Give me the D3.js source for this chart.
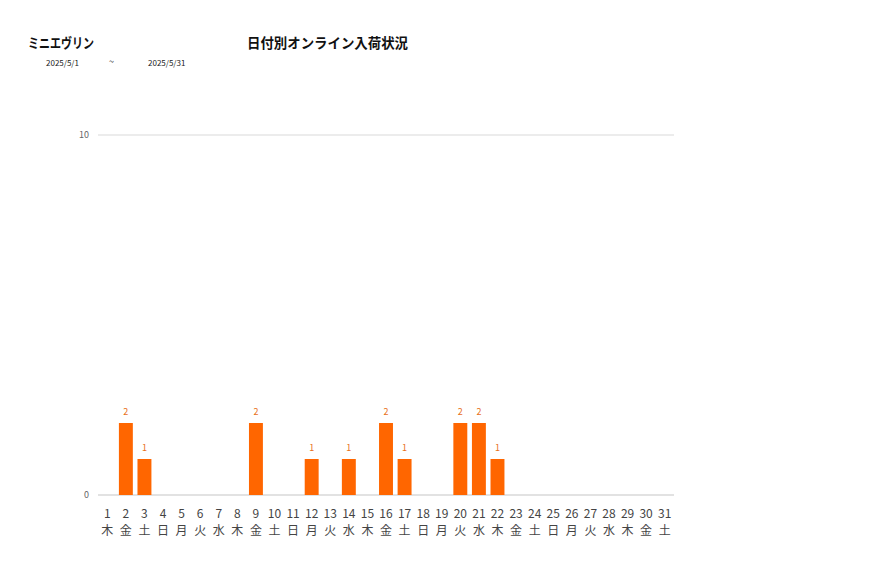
<!DOCTYPE html>
<html><head><meta charset="utf-8">
<script src="https://cdn.jsdelivr.net/npm/d3@7"></script>
<style>body{margin:0;background:#fff;font-family:"Noto Sans CJK JP","Noto Sans",sans-serif;}</style>
</head><body>
<svg id="c" width="877" height="578"></svg>
<script>
const days = d3.range(1, 32).map(String);
const weekdays = ["木","金","土","日","月","火","水","木","金","土","日","月","火","水","木","金","土","日","月","火","水","木","金","土","日","月","火","水","木","金","土"];
const values = [0,2,1,0,0,0,0,0,2,0,0,1,0,1,0,2,1,0,0,2,2,1,0,0,0,0,0,0,0,0,0];
const yTicks = [0, 10];
const title = "日付別オンライン入荷状況";
const brand = "ミニエヴリン";
const dateFrom = "2025/5/1", dateTo = "2025/5/31";

const svg = d3.select("#c");
const x = d3.scaleBand().domain(days).range([98, 674]).paddingInner(0.25).paddingOuter(0.125);
const y = d3.scaleLinear().domain([0, 10]).range([495, 135]);

svg.append("g").selectAll("line").data(yTicks).join("line")
  .attr("x1", 98).attr("x2", 674).attr("y1", d => y(d)).attr("y2", d => y(d))
  .attr("stroke", d => d === 0 ? "#d9d9d9" : "#e6e6e6").attr("stroke-width", 1.5);
svg.append("g").selectAll("text").data(yTicks).join("text")
  .attr("x", 89).attr("y", d => y(d)).attr("dy", "0.35em").attr("text-anchor", "end")
  .attr("font-size", 9).attr("fill", "#666").text(d => d);

const data = days.map((d, i) => ({d, v: values[i], w: weekdays[i]}));
svg.append("g").selectAll("rect").data(data.filter(e => e.v > 0)).join("rect")
  .attr("x", e => x(e.d)).attr("width", x.bandwidth())
  .attr("y", e => y(e.v)).attr("height", e => y(0) - y(e.v)).attr("fill", "#ff6600");
svg.append("g").selectAll("text").data(data.filter(e => e.v > 0)).join("text")
  .attr("x", e => x(e.d) + x.bandwidth() / 2).attr("y", e => y(e.v) - 8)
  .attr("text-anchor", "middle").attr("font-size", 9).attr("fill", "#e8701a").text(e => e.v);

const xl = svg.append("g");
xl.selectAll("text.n").data(data).join("text").attr("class", "n")
  .attr("x", e => x(e.d) + x.bandwidth() / 2).attr("y", 518).attr("text-anchor", "middle")
  .attr("font-size", 12).attr("fill", "#444").text(e => e.d);
xl.selectAll("text.w").data(data).join("text").attr("class", "w")
  .attr("x", e => x(e.d) + x.bandwidth() / 2).attr("y", 535).attr("text-anchor", "middle")
  .attr("font-size", 12).attr("fill", "#444").text(e => e.w);

svg.append("text").attr("x", 28).attr("y", 48).attr("font-size", 14).attr("font-weight", "bold").attr("fill", "#111")
  .attr("textLength", 66).attr("lengthAdjust", "spacingAndGlyphs").text(brand);
svg.append("text").attr("x", 247).attr("y", 48).attr("font-size", 14).attr("font-weight", "bold").attr("fill", "#111")
  .attr("textLength", 161).attr("lengthAdjust", "spacingAndGlyphs").text(title);
svg.append("text").attr("x", 46).attr("y", 66).attr("font-size", 8).attr("fill", "#222").text(dateFrom);
svg.append("text").attr("x", 109).attr("y", 65).attr("font-size", 9).attr("fill", "#222").text("~");
svg.append("text").attr("x", 148).attr("y", 66).attr("font-size", 8).attr("fill", "#222").text(dateTo);
</script>
</body></html>
